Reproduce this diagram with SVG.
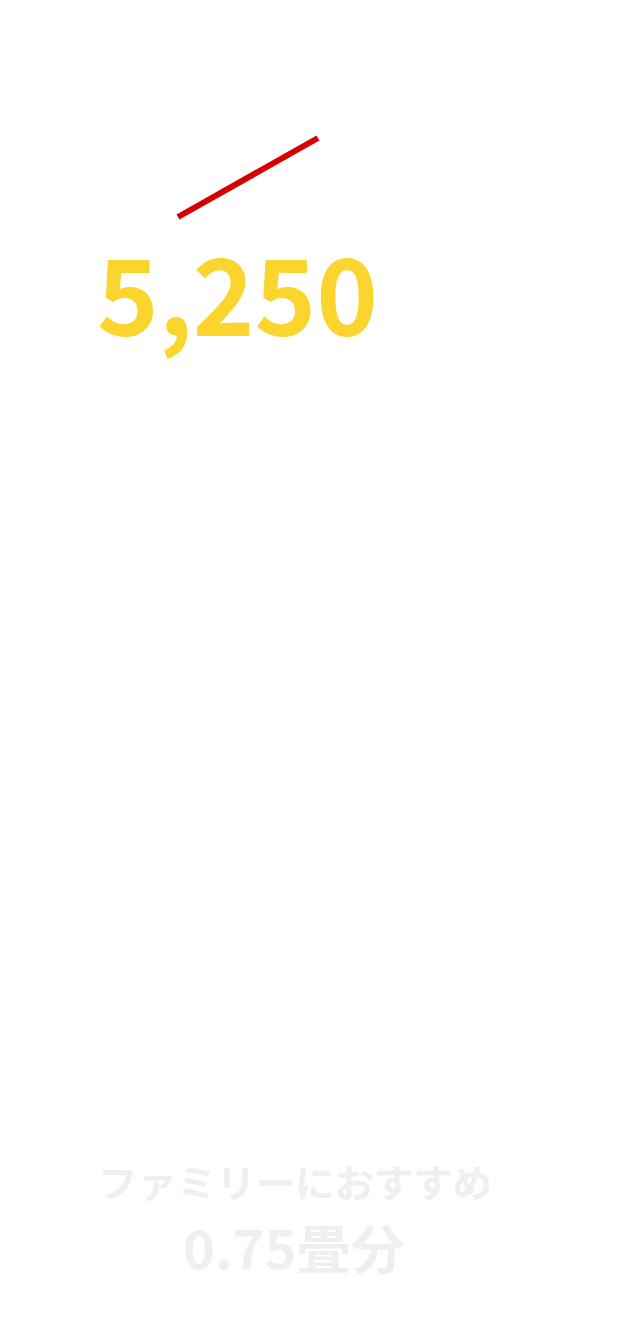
<svg xmlns="http://www.w3.org/2000/svg" width="618" height="1318" viewBox="0 0 618 1318">
<style>
.t{font-family:"Noto Sans CJK JP","Noto Sans",sans-serif;font-weight:bold}
</style>
<rect width="618" height="1318" fill="#ffffff"/>
<g id="slash"><line x1="178" y1="217" x2="318" y2="138" stroke="#d60000" stroke-width="6"/></g>
<g id="price"><text class="t" x="97" y="336" font-size="106" fill="#fcd42e" textLength="281" lengthAdjust="spacingAndGlyphs">5,250</text></g>
<g id="caption">
<text class="t" x="295" y="1197" font-size="38" fill="#efefef" text-anchor="middle" textLength="394" lengthAdjust="spacingAndGlyphs">ファミリーにおすすめ</text>
<text class="t" x="294" y="1269" font-size="52" fill="#efefef" text-anchor="middle" textLength="222" lengthAdjust="spacingAndGlyphs">0.75畳分</text>
</g>
</svg>
